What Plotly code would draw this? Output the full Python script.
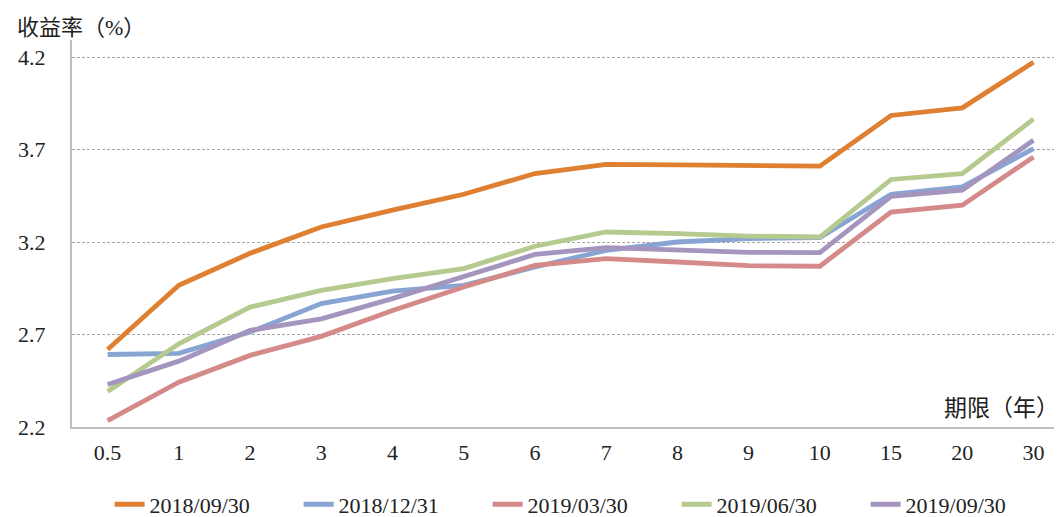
import plotly.graph_objects as go

categories = ["0.5", "1", "2", "3", "4", "5", "6", "7", "8", "9", "10", "15", "20", "30"]

y_20180930 = [2.619, 2.966, 3.139, 3.281, 3.372, 3.458, 3.570, 3.620, 3.617, 3.613, 3.610, 3.884, 3.925, 4.172]
y_20181231 = [2.592, 2.598, 2.713, 2.867, 2.935, 2.966, 3.065, 3.155, 3.200, 3.218, 3.224, 3.458, 3.498, 3.705]
y_20190330 = [2.235, 2.442, 2.587, 2.690, 2.830, 2.957, 3.074, 3.110, 3.092, 3.072, 3.069, 3.362, 3.399, 3.660]
y_20190630 = [2.392, 2.650, 2.848, 2.939, 3.002, 3.056, 3.177, 3.254, 3.245, 3.232, 3.227, 3.538, 3.570, 3.864]
y_20190930 = [2.430, 2.556, 2.722, 2.785, 2.894, 3.014, 3.133, 3.170, 3.159, 3.144, 3.143, 3.447, 3.480, 3.750]

series_names = ["2018/09/30", "2018/12/31", "2019/03/30", "2019/06/30", "2019/09/30"]
series_values = [y_20180930, y_20181231, y_20190330, y_20190630, y_20190930]
colors = ["#DF7F31", "#87A4D3", "#D38A89", "#B5CA8E", "#A495BE"]

ytick_vals = [2.2, 2.7, 3.2, 3.7, 4.2]
ytick_text = ["2.2", "2.7", "3.2", "3.7", "4.2"]

FONT = "Liberation Serif, Noto Sans CJK SC, serif"

fig = go.Figure()
for name, vals, c in zip(series_names, series_values, colors):
    fig.add_trace(go.Scatter(x=categories, y=vals, mode="lines", name=name,
                             line=dict(color=c, width=4.8)))

fig.update_layout(
    width=1054, height=509,
    margin=dict(l=64, r=0, t=32, b=90, autoexpand=False),
    plot_bgcolor="white", paper_bgcolor="white",
    font=dict(family=FONT, size=22, color="#333333"),
    showlegend=True,
    legend=dict(orientation="h", x=0.038, xanchor="left", y=-0.2, yanchor="middle",
                entrywidth=144, entrywidthmode="pixels",
                font=dict(family=FONT, size=22, color="#222222"),
                itemsizing="constant", traceorder="normal"),
    xaxis=dict(type="category", range=[-0.5, 13.4], showgrid=False,
               showline=True, linecolor="#BFBFBF", linewidth=2,
               ticks="", tickfont=dict(family=FONT, size=22, color="#222222"),
               ticklabelstandoff=5, zeroline=False),
    yaxis=dict(range=[2.2, 4.292], tickvals=ytick_vals, ticktext=ytick_text,
               showgrid=True, gridcolor="#A6A6A6", gridwidth=1, griddash="3px,2px",
               showline=True, linecolor="#BFBFBF", linewidth=2, zeroline=False,
               ticks="", tickfont=dict(family=FONT, size=22, color="#222222"),
               ticklabelstandoff=20),
    annotations=[
        dict(text="收益率（%）", xref="paper", yref="paper", x=-0.058, y=1.0,
             xanchor="left", yanchor="bottom", showarrow=False, yshift=-2,
             font=dict(family=FONT, size=22, color="#222222")),
        dict(text="期限（年）", xref="paper", yref="paper", x=1.0, y=0.0,
             xanchor="right", yanchor="bottom", showarrow=False, xshift=-1, yshift=4,
             font=dict(family=FONT, size=23, color="#222222")),
    ],
)

fig.write_html("out.html")
